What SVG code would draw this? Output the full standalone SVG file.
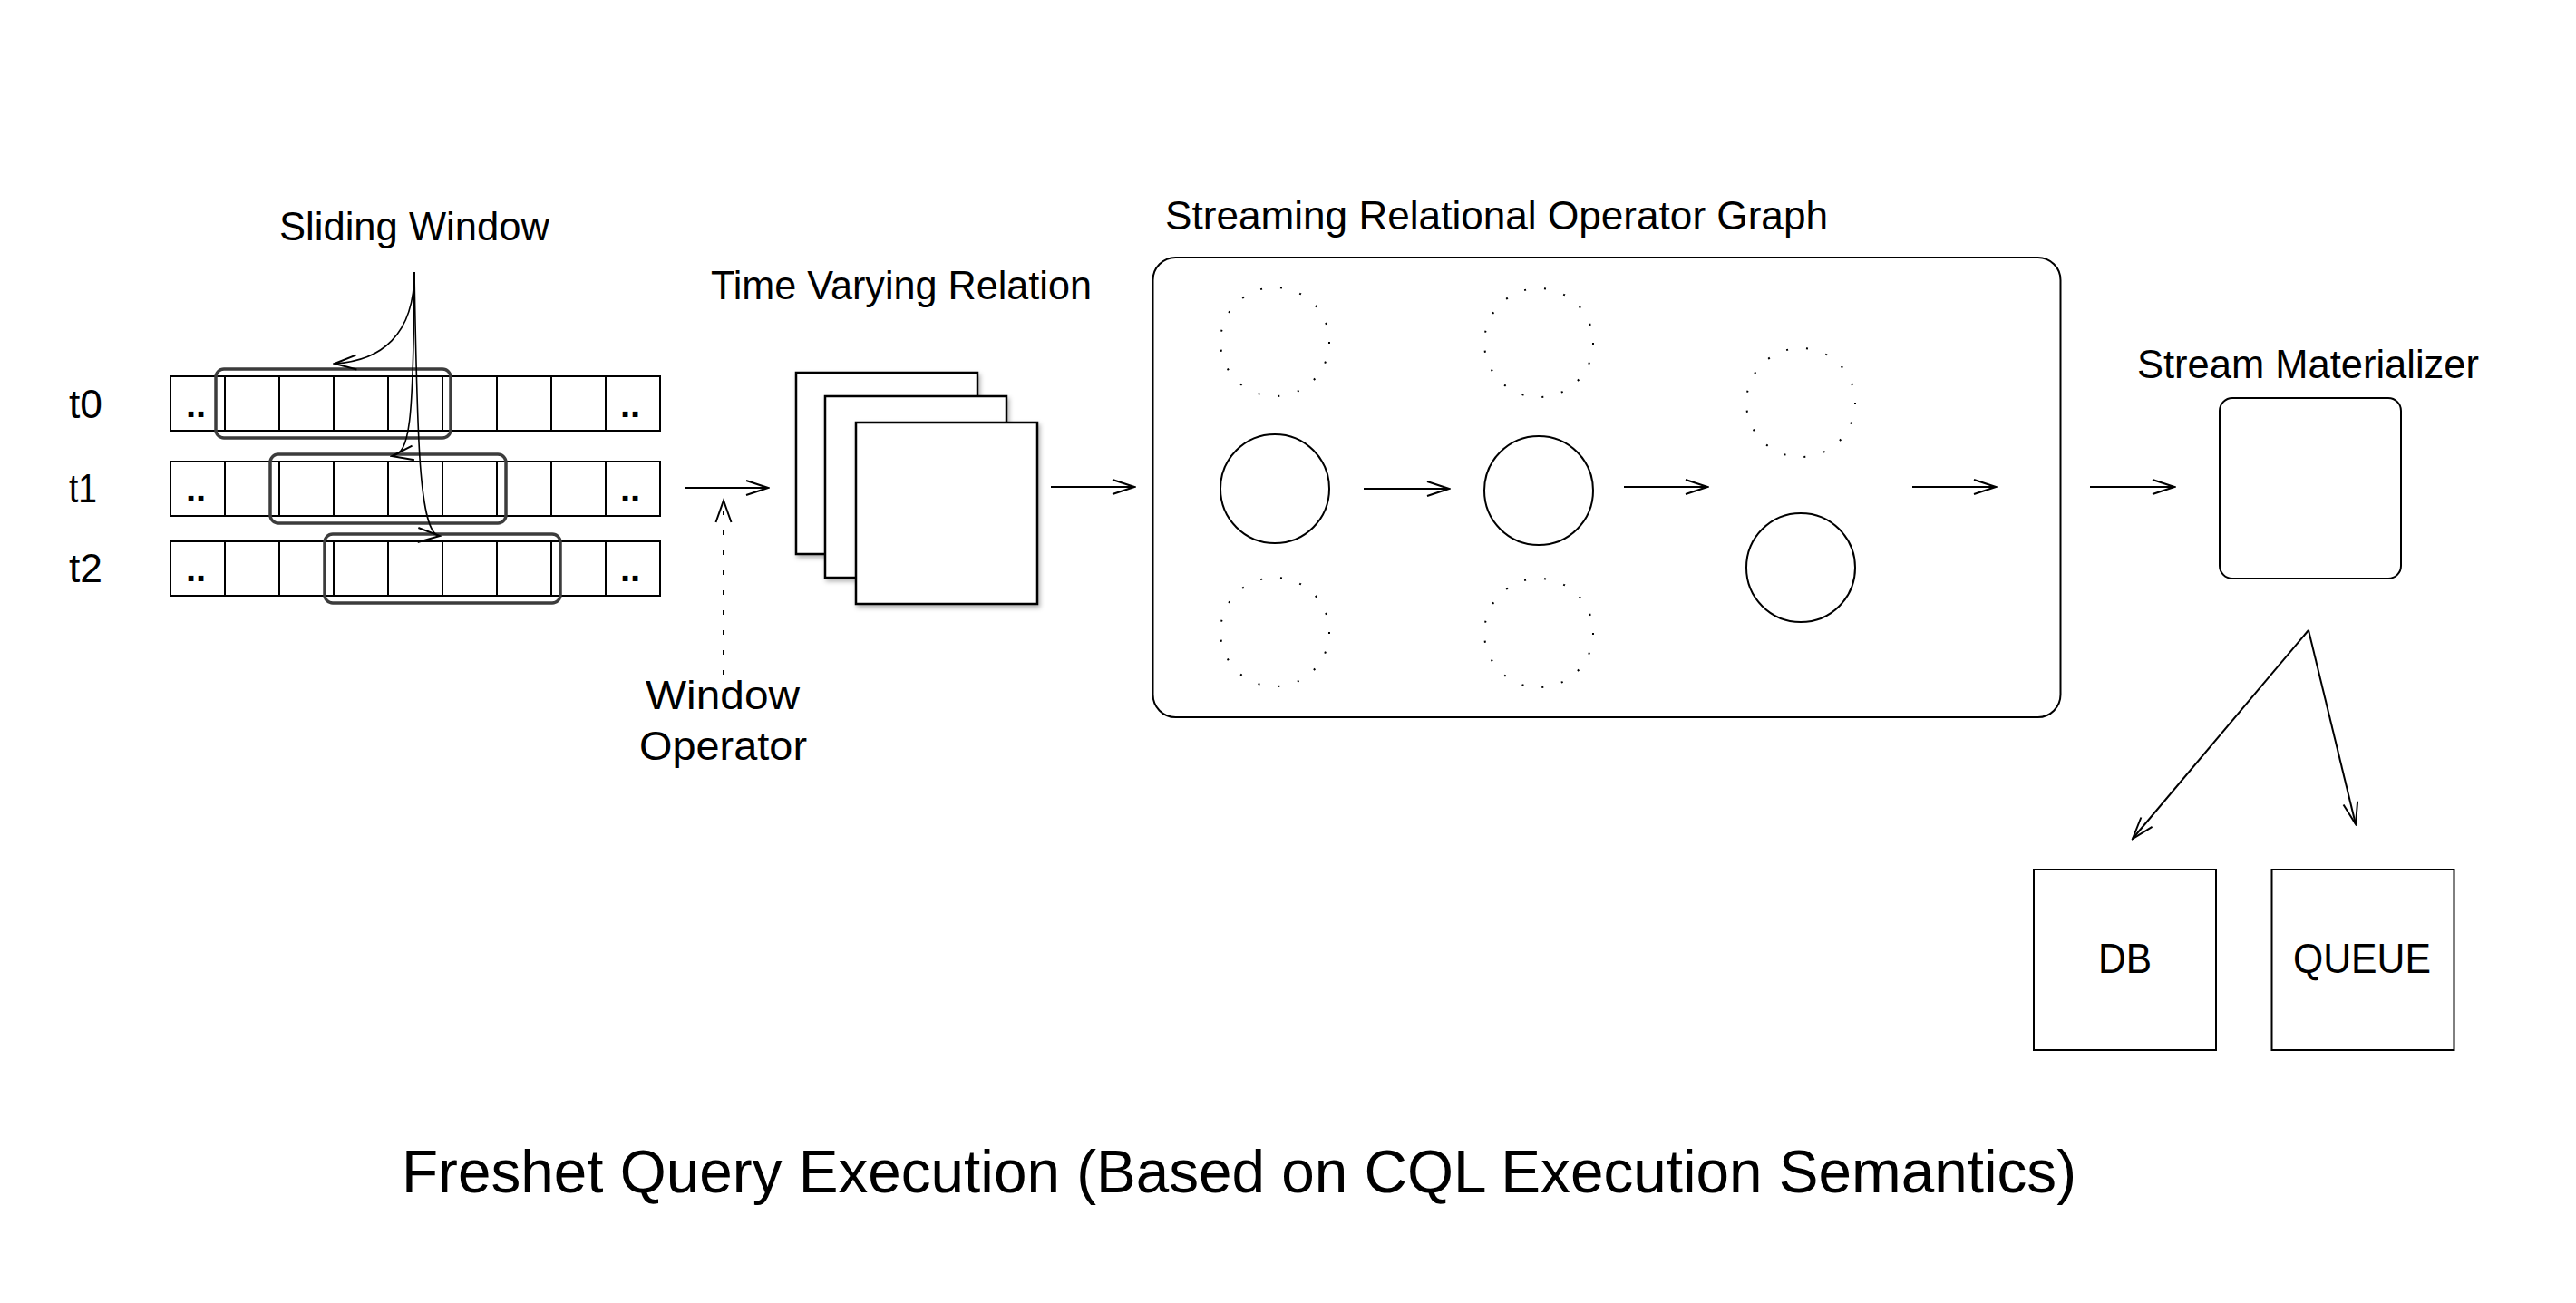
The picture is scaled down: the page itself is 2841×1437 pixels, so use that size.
<svg xmlns="http://www.w3.org/2000/svg" width="2841" height="1437" viewBox="0 0 2841 1437">
<style>
text { font-family: "Liberation Sans", Arial, sans-serif; fill: #000; }
.lbl { font-size: 44px; }
.tl { font-size: 44px; }
.dd { font-size: 40px; font-weight: bold; }
.row { fill: #fff; stroke: #000; stroke-width: 2; }
.cell { stroke: #000; stroke-width: 2; }
.win { fill: none; stroke: #3c3c3c; stroke-width: 3.5; }
.box { fill: #fff; stroke: #000; stroke-width: 2.5; }
.solid { fill: #fff; stroke: #000; stroke-width: 2; }
.dotc { fill: none; stroke: #000; stroke-width: 2; stroke-dasharray: 2 20.18; }
.conn { fill: none; stroke: #000; stroke-width: 2; marker-end: url(#arr); }
.curve { fill: none; stroke: #000; stroke-width: 1.6; marker-end: url(#arr); }
</style>
<defs>
<marker id="arr" viewBox="0 0 28 20" refX="26" refY="10" markerWidth="28" markerHeight="20" markerUnits="userSpaceOnUse" orient="auto">
<path d="M2,2 L26,10 L2,18" fill="none" stroke="#000" stroke-width="2"/>
</marker>
<filter id="shadow" x="-10%" y="-10%" width="130%" height="130%">
<feDropShadow dx="2" dy="3" stdDeviation="2.5" flood-color="#000" flood-opacity="0.3"/>
</filter>
</defs>
<rect width="2841" height="1437" fill="#fff"/>

<g id="sliding-window-label">
<text class="lbl" x="308" y="265" textLength="298" lengthAdjust="spacingAndGlyphs">Sliding Window</text>
</g>

<g id="stream-t0">
<text class="tl" x="76" y="461" textLength="37" lengthAdjust="spacingAndGlyphs">t0</text>
<rect class="row" x="188" y="415" width="540" height="60"/>
<path class="cell" d="M248,415V475M308,415V475M368,415V475M428,415V475M488,415V475M548,415V475M608,415V475M668,415V475"/>
<text class="dd" x="205" y="460">..</text>
<text class="dd" x="684" y="460">..</text>
<rect class="win" x="238" y="407" width="259" height="76" rx="9"/>
</g>

<g id="stream-t1">
<text class="tl" x="76" y="554" textLength="31" lengthAdjust="spacingAndGlyphs">t1</text>
<rect class="row" x="188" y="509" width="540" height="60"/>
<path class="cell" d="M248,509V569M308,509V569M368,509V569M428,509V569M488,509V569M548,509V569M608,509V569M668,509V569"/>
<text class="dd" x="205" y="553">..</text>
<text class="dd" x="684" y="553">..</text>
<rect class="win" x="298" y="501" width="260" height="76" rx="9"/>
</g>

<g id="stream-t2">
<text class="tl" x="76" y="642" textLength="37" lengthAdjust="spacingAndGlyphs">t2</text>
<rect class="row" x="188" y="597" width="540" height="60"/>
<path class="cell" d="M248,597V657M308,597V657M368,597V657M428,597V657M488,597V657M548,597V657M608,597V657M668,597V657"/>
<text class="dd" x="205" y="641">..</text>
<text class="dd" x="684" y="641">..</text>
<rect class="win" x="358" y="589" width="260" height="76" rx="9"/>
</g>

<g id="window-operator-label">
<text class="lbl" x="712" y="782" textLength="170" lengthAdjust="spacingAndGlyphs">Window</text>
<text class="lbl" x="705" y="838" textLength="185" lengthAdjust="spacingAndGlyphs">Operator</text>
</g>

<g id="time-varying-relation">
<text class="lbl" x="784" y="330" textLength="420" lengthAdjust="spacingAndGlyphs">Time Varying Relation</text>
<rect class="box" x="878" y="411" width="200" height="200" filter="url(#shadow)"/>
<rect class="box" x="910" y="437" width="200" height="200" filter="url(#shadow)"/>
<rect class="box" x="944" y="466" width="200" height="200" filter="url(#shadow)"/>
</g>

<g id="operator-graph">
<text class="lbl" x="1285" y="253" textLength="731" lengthAdjust="spacingAndGlyphs">Streaming Relational Operator Graph</text>
<rect x="1271.5" y="284" width="1001" height="507" rx="25" fill="none" stroke="#000" stroke-width="2"/>
<circle class="dotc" cx="1406" cy="377" r="60"/>
<circle class="dotc" cx="1697" cy="378" r="60"/>
<circle class="dotc" cx="1986" cy="444" r="60"/>
<circle class="dotc" cx="1406" cy="697" r="60"/>
<circle class="dotc" cx="1697" cy="698" r="60"/>
<circle class="solid" cx="1406" cy="539" r="60"/>
<circle class="solid" cx="1697" cy="541" r="60"/>
<circle class="solid" cx="1986" cy="626" r="60"/>
</g>

<g id="stream-materializer">
<text class="lbl" x="2357" y="417" textLength="377" lengthAdjust="spacingAndGlyphs">Stream Materializer</text>
<rect x="2448" y="439" width="200" height="199" rx="14" fill="#fff" stroke="#000" stroke-width="2"/>
</g>

<g id="db">
<rect x="2243" y="959" width="201" height="199" fill="#fff" stroke="#000" stroke-width="2"/>
<text x="2314" y="1073" font-size="46" textLength="59" lengthAdjust="spacingAndGlyphs">DB</text>
</g>

<g id="queue">
<rect x="2505.5" y="959" width="201" height="199" fill="#fff" stroke="#000" stroke-width="2"/>
<text x="2529" y="1073" font-size="46" textLength="152" lengthAdjust="spacingAndGlyphs">QUEUE</text>
</g>

<g id="connectors">
<path class="curve" d="M457,300 C457,370 420,398 369,401"/>
<path class="curve" d="M457,300 C456,470 452,500 432,503"/>
<path class="curve" d="M457,300 C460,480 462,590 485,591"/>
<path class="conn" d="M755,538 H847"/>
<path d="M798,744 V560" fill="none" stroke="#000" stroke-width="2" stroke-dasharray="5 17"/>
<path d="M789.5,576 L798,552 L806.5,576" fill="none" stroke="#000" stroke-width="2"/>
<path class="conn" d="M1159,537 H1251"/>
<path class="conn" d="M1504,539 H1598"/>
<path class="conn" d="M1791,537 H1883"/>
<path class="conn" d="M2109,537 H2201"/>
<path class="conn" d="M2305,537 H2398"/>
<path class="conn" d="M2546,695 L2352,925"/>
<path class="conn" d="M2546,695 L2598,909"/>
</g>

<g id="title">
<text x="443" y="1315" font-size="67" textLength="1847" lengthAdjust="spacingAndGlyphs">Freshet Query Execution (Based on CQL Execution Semantics)</text>
</g>
</svg>
